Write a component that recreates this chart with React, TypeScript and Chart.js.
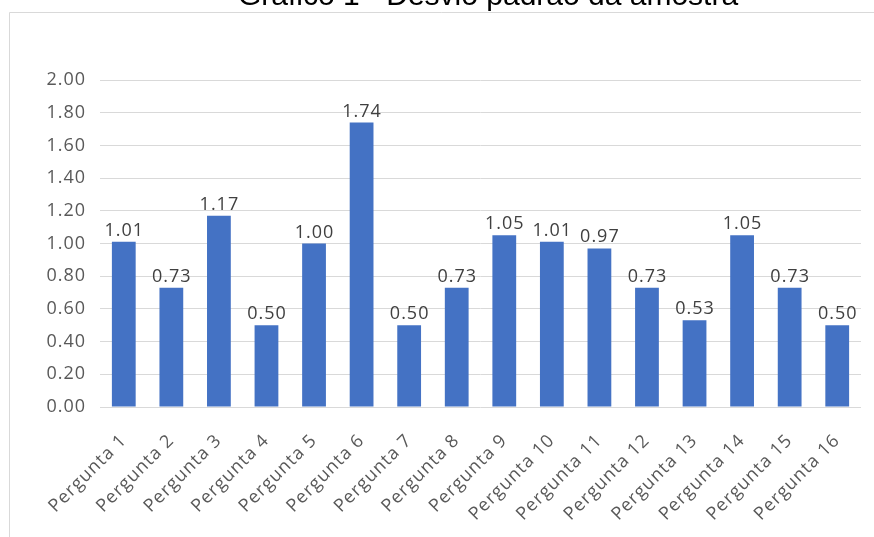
import React, { useEffect, useRef } from "react";
import { Chart, registerables } from "chart.js";

Chart.register(...registerables);

const titleText = "Gráfico 1 - Desvio padrão da amostra";
const categories = [
  "Pergunta 1", "Pergunta 2", "Pergunta 3", "Pergunta 4",
  "Pergunta 5", "Pergunta 6", "Pergunta 7", "Pergunta 8",
  "Pergunta 9", "Pergunta 10", "Pergunta 11", "Pergunta 12",
  "Pergunta 13", "Pergunta 14", "Pergunta 15", "Pergunta 16",
];
const values = [1.01, 0.73, 1.17, 0.5, 1.0, 1.74, 0.5, 0.73, 1.05, 1.01, 0.97, 0.73, 0.53, 1.05, 0.73, 0.5];
const yMin = 0;
const yMax = 2;
const yStep = 0.2;

const W = 874;
const H = 537;
const FONT = "'Open Sans', sans-serif";

export default function App() {
  const ref = useRef<HTMLCanvasElement | null>(null);

  useEffect(() => {
    if (!ref.current) return;
    const decor = {
      id: "decor",
      beforeDraw(chart: any) {
        const ctx = chart.ctx;
        ctx.save();
        ctx.fillStyle = "#ffffff";
        ctx.fillRect(0, 0, W, H);
        ctx.strokeStyle = "#d9d9d9";
        ctx.lineWidth = 1;
        ctx.beginPath();
        ctx.moveTo(9.5, H);
        ctx.lineTo(9.5, 12.5);
        ctx.lineTo(W, 12.5);
        ctx.stroke();
        ctx.fillStyle = "#000000";
        ctx.font = "30px 'Liberation Sans', Arial, sans-serif";
        ctx.textAlign = "center";
        ctx.textBaseline = "alphabetic";
        ctx.fillText(titleText, 488, 5);
        ctx.restore();
        (ctx as any).letterSpacing = "1px";
      },
      afterDatasetsDraw(chart: any) {
        const ctx = chart.ctx;
        const meta = chart.getDatasetMeta(0);
        ctx.save();
        (ctx as any).letterSpacing = "1px";
        ctx.fillStyle = "#404040";
        ctx.font = `18px ${FONT}`;
        ctx.textAlign = "center";
        ctx.textBaseline = "alphabetic";
        meta.data.forEach((el: any, i: number) => {
          ctx.fillText(values[i].toFixed(2), el.x + 0.5, el.y - 6);
        });
        ctx.restore();
      },
    };

    const chart = new Chart(ref.current, {
      type: "bar",
      data: {
        labels: categories,
        datasets: [
          {
            data: values,
            backgroundColor: "#4472C4",
            borderWidth: 0,
            barPercentage: 0.5,
            categoryPercentage: 1,
          },
        ],
      },
      options: {
        responsive: false,
        animation: false,
        layout: { padding: { left: 0, right: 13, top: 80, bottom: 0 } },
        plugins: {
          legend: { display: false },
          tooltip: { enabled: false },
          title: { display: false },
        },
        scales: {
          x: {
            grid: { display: false },
            border: { display: false },
            ticks: {
              color: "#595959",
              font: { family: FONT, size: 18 },
              minRotation: 45,
              maxRotation: 45,
              autoSkip: false,
              padding: 15,
            },
            afterFit(scale: any) {
              scale.height = 130;
            },
          },
          y: {
            min: yMin,
            max: yMax,
            grid: { color: "#d9d9d9", drawTicks: false },
            border: { display: false },
            ticks: {
              stepSize: yStep,
              color: "#595959",
              font: { family: FONT, size: 18 },
              padding: 14,
              callback: (v: any) => Number(v).toFixed(2),
            },
            afterFit(scale: any) {
              scale.width = 100;
            },
          },
        },
      },
      plugins: [decor],
    });
    return () => chart.destroy();
  }, []);

  return (
    <div style={{ position: "fixed", left: 0, top: 0, width: W, height: H, background: "#fff" }}>
      <canvas ref={ref} width={W} height={H} style={{ width: W, height: H, display: "block" }} />
    </div>
  );
}
